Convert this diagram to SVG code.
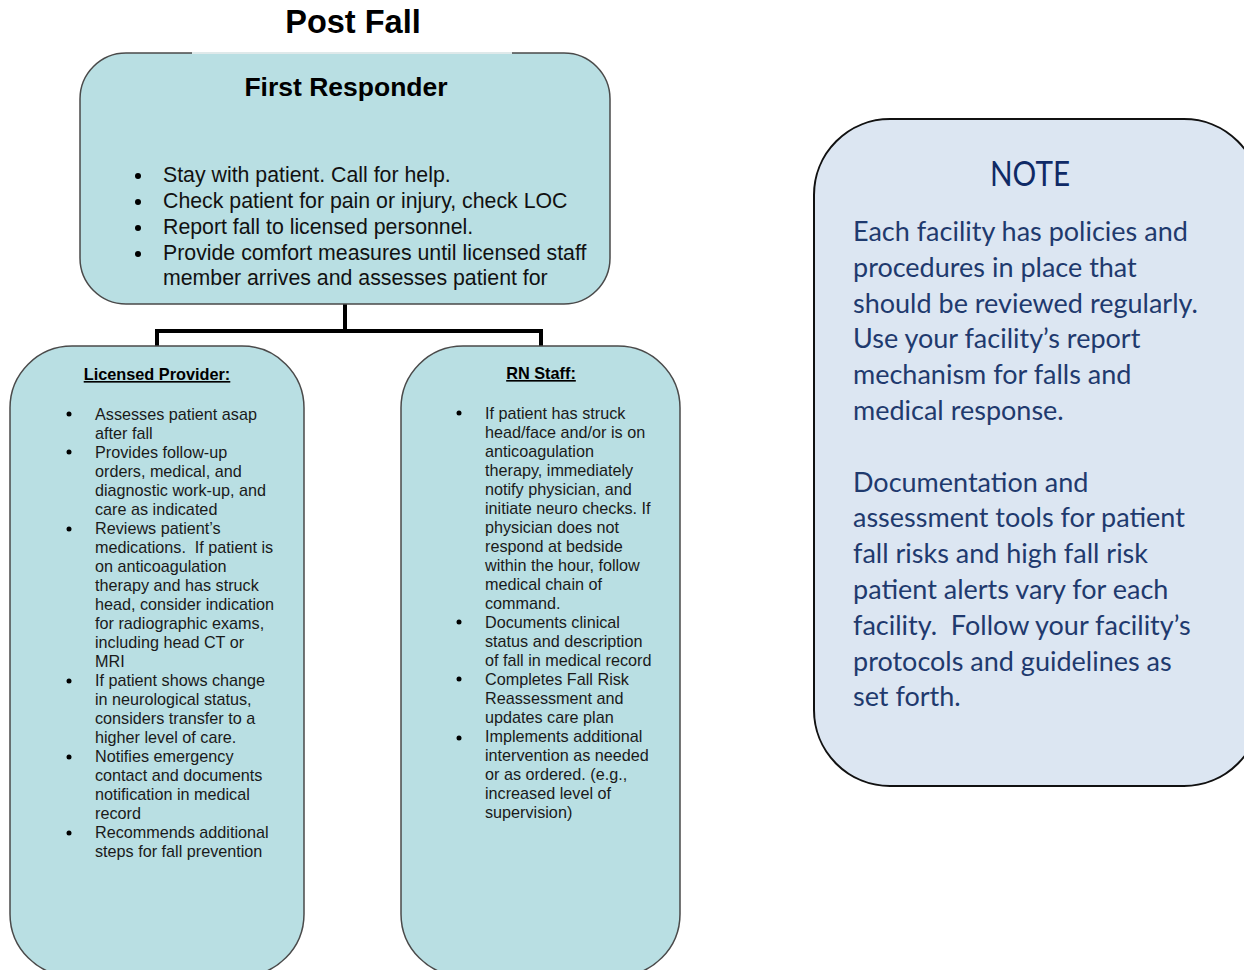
<svg xmlns="http://www.w3.org/2000/svg" width="1244" height="970" viewBox="0 0 1244 970">
<style>
.box{fill:#b9dfe3;stroke:#4a4a4a;stroke-width:1.5}
.note{fill:#dce6f2;stroke:#111;stroke-width:2}
.t{font-family:"Liberation Sans",Arial,sans-serif;fill:#111}
.h{font-family:"Liberation Sans",Arial,sans-serif;font-weight:bold;fill:#000}
.sm{font-family:"Liberation Sans",Arial,sans-serif;font-size:16.2px;fill:#1a1a1a}
.n{font-family:Lato,"Open Sans",sans-serif;font-size:27px;fill:#1f3a6e}
.conn{fill:none;stroke:#000;stroke-width:4}
</style>
<rect width="1244" height="970" fill="#fff"/>
<text class="h" x="353" y="33" font-size="32.5" text-anchor="middle">Post Fall</text>

<g id="connectors">
<path class="conn" d="M345 304 V331 M157 347 V331 H541 V347"/>
</g>

<g id="first-responder">
<rect class="box" x="80" y="53" width="530" height="251" rx="46" ry="46"/>
<line x1="192" y1="53" x2="512" y2="53" stroke="#dfe9ea" stroke-width="2"/>
<text class="h" x="346" y="96" font-size="26.5" text-anchor="middle">First Responder</text>
<g class="t" font-size="21.3">
<text x="163" y="182">Stay with patient. Call for help.</text>
<text x="163" y="208">Check patient for pain or injury, check LOC</text>
<text x="163" y="234">Report fall to licensed personnel.</text>
<text x="163" y="260">Provide comfort measures until licensed staff</text>
<text x="163" y="285">member arrives and assesses patient for</text>
</g>
<g fill="#000"><circle cx="138" cy="176" r="3"/><circle cx="138" cy="202" r="3"/><circle cx="138" cy="228" r="3"/><circle cx="138" cy="254" r="3"/></g>
</g>

<g id="licensed-provider">
<rect class="box" x="10" y="346" width="294" height="630" rx="62" ry="62"/>
<text class="h" x="157" y="380" font-size="16.3" text-anchor="middle" text-decoration="underline">Licensed Provider:</text>
<text class="sm" x="95" y="420" xml:space="preserve"><tspan x="95" y="420">Assesses patient asap</tspan><tspan x="95" dy="19">after fall</tspan><tspan x="95" dy="19">Provides follow-up</tspan><tspan x="95" dy="19">orders, medical, and</tspan><tspan x="95" dy="19">diagnostic work-up, and</tspan><tspan x="95" dy="19">care as indicated</tspan><tspan x="95" dy="19">Reviews patient’s</tspan><tspan x="95" dy="19">medications.  If patient is</tspan><tspan x="95" dy="19">on anticoagulation</tspan><tspan x="95" dy="19">therapy and has struck</tspan><tspan x="95" dy="19">head, consider indication</tspan><tspan x="95" dy="19">for radiographic exams,</tspan><tspan x="95" dy="19">including head CT or</tspan><tspan x="95" dy="19">MRI</tspan><tspan x="95" dy="19">If patient shows change</tspan><tspan x="95" dy="19">in neurological status,</tspan><tspan x="95" dy="19">considers transfer to a</tspan><tspan x="95" dy="19">higher level of care.</tspan><tspan x="95" dy="19">Notifies emergency</tspan><tspan x="95" dy="19">contact and documents</tspan><tspan x="95" dy="19">notification in medical</tspan><tspan x="95" dy="19">record</tspan><tspan x="95" dy="19">Recommends additional</tspan><tspan x="95" dy="19">steps for fall prevention</tspan></text>
<g fill="#000"><circle cx="69" cy="414" r="2.5"/><circle cx="69" cy="452" r="2.5"/><circle cx="69" cy="529" r="2.5"/><circle cx="69" cy="681" r="2.5"/><circle cx="69" cy="757" r="2.5"/><circle cx="69" cy="833" r="2.5"/></g>
</g>

<g id="rn-staff">
<rect class="box" x="401" y="346" width="279" height="630" rx="62" ry="62"/>
<text class="h" x="541" y="379" font-size="16.3" text-anchor="middle" text-decoration="underline">RN Staff:</text>
<text class="sm" x="485" y="419"><tspan x="485" y="419">If patient has struck</tspan><tspan x="485" dy="19">head/face and/or is on</tspan><tspan x="485" dy="19">anticoagulation</tspan><tspan x="485" dy="19">therapy, immediately</tspan><tspan x="485" dy="19">notify physician, and</tspan><tspan x="485" dy="19">initiate neuro checks. If</tspan><tspan x="485" dy="19">physician does not</tspan><tspan x="485" dy="19">respond at bedside</tspan><tspan x="485" dy="19">within the hour, follow</tspan><tspan x="485" dy="19">medical chain of</tspan><tspan x="485" dy="19">command.</tspan><tspan x="485" dy="19">Documents clinical</tspan><tspan x="485" dy="19">status and description</tspan><tspan x="485" dy="19">of fall in medical record</tspan><tspan x="485" dy="19">Completes Fall Risk</tspan><tspan x="485" dy="19">Reassessment and</tspan><tspan x="485" dy="19">updates care plan</tspan><tspan x="485" dy="19">Implements additional</tspan><tspan x="485" dy="19">intervention as needed</tspan><tspan x="485" dy="19">or as ordered. (e.g.,</tspan><tspan x="485" dy="19">increased level of</tspan><tspan x="485" dy="19">supervision)</tspan></text>
<g fill="#000"><circle cx="459" cy="413" r="2.5"/><circle cx="459" cy="622" r="2.5"/><circle cx="459" cy="679" r="2.5"/><circle cx="459" cy="738" r="2.5"/></g>
</g>

<g id="note">
<rect class="note" x="814" y="119" width="446" height="667" rx="76" ry="76"/>
<text x="990" y="186" textLength="80" lengthAdjust="spacingAndGlyphs" font-family="Lato,'Open Sans',sans-serif" font-size="35" fill="#0f2a66">NOTE</text>
<text class="n" xml:space="preserve"><tspan x="853" y="241">Each facility has policies and</tspan><tspan x="853" y="277">procedures in place that</tspan><tspan x="853" y="313">should be reviewed regularly.</tspan><tspan x="853" y="348">Use your facility’s report</tspan><tspan x="853" y="384">mechanism for falls and</tspan><tspan x="853" y="420">medical response.</tspan><tspan x="853" y="492">Documentation and</tspan><tspan x="853" y="527">assessment tools for patient</tspan><tspan x="853" y="563">fall risks and high fall risk</tspan><tspan x="853" y="599">patient alerts vary for each</tspan><tspan x="853" y="635">facility.  Follow your facility’s</tspan><tspan x="853" y="671">protocols and guidelines as</tspan><tspan x="853" y="706">set forth.</tspan></text>
</g>
</svg>
